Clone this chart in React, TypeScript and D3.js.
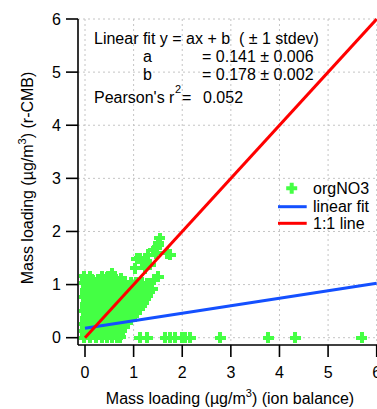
import React from "react";
import * as d3 from "d3";

const xTicks = [0, 1, 2, 3, 4, 5, 6];
const yTicks = [0, 1, 2, 3, 4, 5, 6];
const fitA = 0.141;
const fitB = 0.178;

// orgNO3 points [x, y]
const orgNO3: [number, number][] = [
  // dense cluster rows
  [-0.02, 0.0], [0.1, 0.0], [0.22, 0.0], [0.34, 0.0], [0.46, 0.0], [0.56, 0.0], [0.66, 0.0], [0.72, 0.01],
  [0.0, 0.06], [0.12, 0.06], [0.24, 0.06], [0.36, 0.06], [0.48, 0.06], [0.6, 0.06], [0.7, 0.05],
  [-0.02, 0.12], [0.08, 0.12], [0.2, 0.12], [0.32, 0.12], [0.44, 0.12], [0.56, 0.12], [0.68, 0.12], [0.76, 0.13],
  [0.01, 0.19], [0.13, 0.19], [0.25, 0.19], [0.37, 0.19], [0.49, 0.19], [0.61, 0.19], [0.72, 0.19], [0.82, 0.2],
  [-0.01, 0.25], [0.1, 0.25], [0.22, 0.25], [0.34, 0.25], [0.46, 0.25], [0.58, 0.25], [0.7, 0.25], [0.8, 0.25], [0.88, 0.27],
  [0.02, 0.32], [0.14, 0.32], [0.26, 0.32], [0.38, 0.32], [0.5, 0.32], [0.62, 0.32], [0.74, 0.32], [0.85, 0.32], [0.95, 0.34],
  [0.0, 0.38], [0.11, 0.38], [0.23, 0.38], [0.35, 0.38], [0.47, 0.38], [0.59, 0.38], [0.71, 0.38], [0.83, 0.38], [0.93, 0.38], [1.0, 0.4],
  [0.03, 0.45], [0.15, 0.45], [0.27, 0.45], [0.39, 0.45], [0.51, 0.45], [0.63, 0.45], [0.75, 0.45], [0.87, 0.45], [0.97, 0.45], [1.06, 0.47],
  [-0.01, 0.51], [0.11, 0.51], [0.23, 0.51], [0.35, 0.51], [0.47, 0.51], [0.59, 0.51], [0.71, 0.51], [0.83, 0.51], [0.95, 0.51], [1.05, 0.52], [1.12, 0.54],
  [0.02, 0.58], [0.14, 0.58], [0.26, 0.58], [0.38, 0.58], [0.5, 0.58], [0.62, 0.58], [0.74, 0.58], [0.86, 0.58], [0.98, 0.58], [1.08, 0.58], [1.16, 0.6],
  [0.0, 0.64], [0.11, 0.64], [0.23, 0.64], [0.35, 0.64], [0.47, 0.64], [0.59, 0.64], [0.71, 0.64], [0.83, 0.64], [0.95, 0.64], [1.07, 0.64], [1.2, 0.66],
  [0.03, 0.71], [0.15, 0.71], [0.27, 0.71], [0.39, 0.71], [0.51, 0.71], [0.63, 0.71], [0.75, 0.71], [0.87, 0.71], [0.99, 0.71], [1.11, 0.71], [1.24, 0.72],
  [-0.01, 0.77], [0.11, 0.77], [0.23, 0.77], [0.35, 0.77], [0.47, 0.77], [0.59, 0.77], [0.71, 0.77], [0.83, 0.77], [0.95, 0.77], [1.07, 0.77], [1.19, 0.77], [1.28, 0.79],
  [0.02, 0.84], [0.14, 0.84], [0.26, 0.84], [0.38, 0.84], [0.5, 0.84], [0.62, 0.84], [0.74, 0.84], [0.88, 0.84], [1.0, 0.84], [1.12, 0.84], [1.24, 0.84], [1.32, 0.86],
  [0.0, 0.9], [0.11, 0.9], [0.23, 0.9], [0.35, 0.9], [0.47, 0.9], [0.59, 0.9], [0.71, 0.9], [0.82, 0.9], [0.92, 0.9], [1.04, 0.9], [1.16, 0.9], [1.28, 0.9], [1.38, 0.92],
  [0.03, 0.97], [0.15, 0.97], [0.27, 0.97], [0.39, 0.97], [0.51, 0.97], [0.63, 0.97], [0.75, 0.97], [0.86, 0.97], [0.97, 0.97], [1.09, 0.97], [1.2, 0.97], [1.3, 0.98],
  [-0.01, 1.03], [0.11, 1.03], [0.23, 1.03], [0.35, 1.03], [0.47, 1.03], [0.59, 1.03], [0.7, 1.03], [0.82, 1.04], [0.94, 1.03], [1.05, 1.04], [1.17, 1.03], [1.27, 1.02],
  [0.02, 1.1], [0.14, 1.1], [0.26, 1.09], [0.4, 1.1], [0.52, 1.09], [0.64, 1.1], [0.75, 1.12],
  [-0.02, 1.16], [0.1, 1.15], [0.35, 1.16], [0.46, 1.14], [0.55, 1.21],
  // along the 1:1 line
  [1.03, 1.31], [1.06, 1.49], [1.13, 1.5], [1.17, 1.43], [1.23, 1.31], [1.23, 1.43],
  [1.3, 1.56], [1.34, 1.37], [1.41, 1.65], [1.47, 1.59], [1.47, 1.68], [1.51, 1.75],
  [1.51, 1.78], [1.54, 1.87], [1.68, 1.59], [1.75, 1.56], [1.51, 1.15], [1.41, 1.09],
  // near zero
  [1.13, 0.0], [1.28, 0.0], [1.65, 0.0], [1.75, 0.0], [1.85, 0.0], [1.99, 0.0],
  [2.06, 0.0], [2.17, 0.0], [2.78, 0.0], [3.77, 0.0], [4.32, 0.0], [5.69, 0.0],
];

const GREEN = "#44ff44";
const BLUE = "#1450ff";
const RED = "#ff0000";
const FONT = "'Liberation Sans', Arial, sans-serif";

export default function App() {
  const W = 377;
  const H = 409;
  const x = d3.scaleLinear().domain([0, 6]).range([85, 376.7]);
  const y = d3.scaleLinear().domain([0, 6]).range([337.7, 19]);
  const axisX = 78;
  const axisY = 345;
  const arm = 5.5;

  const fitLine = d3
    .line<number>()
    .x((d) => x(d))
    .y((d) => y(fitA * d + fitB));
  const oneLine = d3
    .line<number>()
    .x((d) => x(d))
    .y((d) => y(d));

  const plus = (cx: number, cy: number, key: any) => (
    <path
      key={key}
      d={`M${cx - arm},${cy}H${cx + arm}M${cx},${cy - arm}V${cy + arm}`}
      stroke={GREEN}
      strokeWidth={4}
      fill="none"
    />
  );

  return (
    <svg
      width={W}
      height={H}
      style={{ position: "fixed", left: 0, top: 0, background: "#fff" }}
      fontFamily={FONT}
    >
      <rect width={W} height={H} fill="#fff" />
      {/* grid */}
      <g stroke="#c4c4c4" strokeWidth={1} strokeDasharray="2,3">
        {xTicks.map((t) => (
          <line key={"gx" + t} x1={x(t)} x2={x(t)} y1={y(6)} y2={axisY} />
        ))}
        {yTicks.map((t) => (
          <line key={"gy" + t} x1={axisX} x2={W} y1={y(t)} y2={y(t)} />
        ))}
      </g>

      {/* points */}
      <g shapeRendering="crispEdges">{orgNO3.map((d, i) => plus(x(d[0]), y(d[1]), i))}</g>

      {/* lines */}
      <path d={fitLine([0, 6]) || ""} stroke={BLUE} strokeWidth={3} fill="none" />
      <path d={oneLine([0, 6]) || ""} stroke={RED} strokeWidth={3} fill="none" />

      {/* axes */}
      <g stroke="#000" strokeWidth={1.6}>
        <line x1={axisX} x2={axisX} y1={y(6)} y2={axisY} />
        <line x1={axisX} x2={W} y1={axisY} y2={axisY} />
        {yTicks.map((t) => (
          <line key={"ty" + t} x1={axisX - 12} x2={axisX} y1={y(t)} y2={y(t)} />
        ))}
        {xTicks.map((t) => (
          <line key={"tx" + t} x1={x(t)} x2={x(t)} y1={axisY} y2={axisY + 12} />
        ))}
      </g>
      <g fontSize={16} fill="#000">
        {yTicks.map((t) => (
          <text key={"ly" + t} x={61} y={y(t)} dy="0.35em" textAnchor="end">
            {t}
          </text>
        ))}
        {xTicks.map((t) => (
          <text key={"lx" + t} x={x(t)} y={378} textAnchor="middle">
            {t}
          </text>
        ))}
      </g>

      {/* axis titles */}
      <text x={230} y={404} fontSize={16} textAnchor="middle">
        Mass loading (µg/m
        <tspan dy={-7} fontSize={11}>3</tspan>
        <tspan dy={7}>) (ion balance)</tspan>
      </text>
      <text
        transform="translate(33,178) rotate(-90)"
        fontSize={16}
        textAnchor="middle"
      >
        Mass loading (µg/m
        <tspan dy={-7} fontSize={11}>3</tspan>
        <tspan dy={7}>) (r-CMB)</tspan>
      </text>

      {/* annotation */}
      <g fontSize={16} fill="#000">
        <text x={94} y={44} xmlSpace="preserve">Linear fit y = ax + b  ( ± 1 stdev)</text>
        <text x={143} y={62}>a</text>
        <text x={202} y={62}>= 0.141 ± 0.006</text>
        <text x={143} y={80}>b</text>
        <text x={202} y={80}>= 0.178 ± 0.002</text>
        <text x={94} y={103}>Pearson's r</text>
        <text x={175} y={93} fontSize={11}>2</text>
        <text x={182} y={103}>=</text>
        <text x={203} y={103}>0.052</text>
      </g>

      {/* legend */}
      {plus(291.7, 188.3, "leg")}
      <line x1={278} x2={306.7} y1={206.7} y2={206.7} stroke={BLUE} strokeWidth={3} />
      <line x1={278} x2={306.7} y1={223.3} y2={223.3} stroke={RED} strokeWidth={3} />
      <g fontSize={16} fill="#000">
        <text x={313} y={194}>orgNO3</text>
        <text x={313} y={212}>linear fit</text>
        <text x={313} y={229}>1:1 line</text>
      </g>
    </svg>
  );
}
